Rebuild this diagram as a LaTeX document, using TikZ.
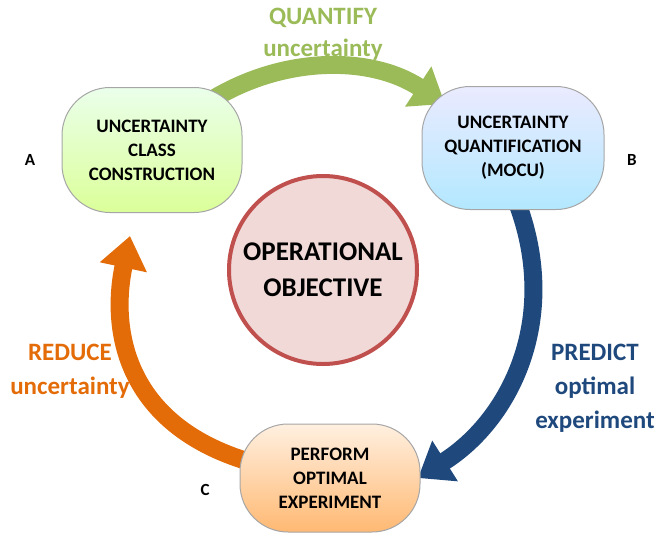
\documentclass[tikz,border=0pt]{standalone}
\usepackage{fontspec}
\setmainfont{Carlito}
\usetikzlibrary{arrows.meta}
\definecolor{gr}{HTML}{9BBB59}
\definecolor{bl}{HTML}{1F497D}
\definecolor{og}{HTML}{E36C09}
\definecolor{rd}{HTML}{C0504D}
\begin{document}
\begin{tikzpicture}[x=1pt,y=-1pt,
  box/.style={draw=gray!70,line width=1pt,rounded corners=48pt,minimum width=180pt,align=center,font=\bfseries\fontsize{19}{24}\selectfont},
  band/.style={line width=18pt,-{Triangle[width=46pt,length=32pt]}},
  lbl/.style={font=\bfseries\fontsize{17}{20}\selectfont},
  big/.style={font=\bfseries\fontsize{27}{36}\selectfont,align=center}]
\useasboundingbox (0,0) rectangle (658,536);
\coordinate (ga) at (205,104);
\coordinate (gb) at (445,104);
\coordinate (ba) at (518,205);
\coordinate (bb) at (418,478);
\coordinate (oa) at (250,462);
\coordinate (ob) at (130,236);
\draw[band,gr] (ga) .. controls (280,55) and (370,55) .. (gb);
\draw[band,bl] (ba) .. controls (560,320) and (510,420) .. (bb);
\draw[band,og] (oa) .. controls (125,425) and (110,330) .. (ob);
\node[box,minimum height=125pt,top color=green!8!white,bottom color=green!35!yellow!40!white] (A) at (152,150) {UNCERTAINTY\\CLASS\\CONSTRUCTION};
\node[box,minimum height=123pt,minimum width=182pt,top color=blue!8!white,bottom color=blue!30!cyan!30!white] (B) at (513,148) {UNCERTAINTY\\QUANTIFICATION\\(MOCU)};
\node[box,minimum height=108pt,top color=orange!12!white,bottom color=orange!55!white] (C) at (330,478) {PERFORM\\OPTIMAL\\EXPERIMENT};
\node[circle,draw=rd,line width=4pt,fill=rd!22!white,minimum size=188pt,big] (O) at (323,270) {OPERATIONAL\\OBJECTIVE};
\node[lbl] (la) at (30,160) {A};
\node[lbl] (lb) at (632,160) {B};
\node[lbl] (lc) at (205,490) {C};
\node[big,text=gr,font=\bfseries\fontsize{25}{32}\selectfont] (t1) at (323,34) {QUANTIFY\\uncertainty};
\node[big,text=bl,font=\bfseries\fontsize{25}{34}\selectfont] (t2) at (595,388) {PREDICT\\optimal\\experiment};
\node[big,text=og,font=\bfseries\fontsize{25}{34}\selectfont] (t3) at (70,371) {REDUCE\\uncertainty};
\end{tikzpicture}
\end{document}
